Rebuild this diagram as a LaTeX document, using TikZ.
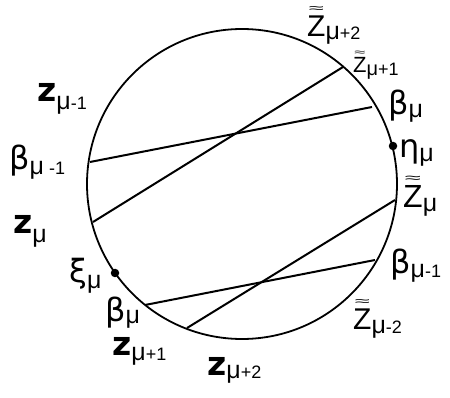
\documentclass[tikz,border=0pt]{standalone}
\usepackage{fontspec}
\usepackage{graphicx}
\setmainfont{Liberation Sans}
\newfontfamily\gk{DejaVu Sans}
\newcommand{\zb}{{\gk\bfseries\fontsize{33}{33}\selectfont z}}
\newcommand{\gl}[1]{{\gk\fontsize{32}{32}\selectfont #1}}
\newcommand{\dg}[1]{{\fontsize{18}{18}\selectfont #1}}
\newcommand{\lo}[2][5]{\raisebox{-#1pt}{\fontsize{25}{25}\selectfont #2}}
\newcommand{\tz}{\vbox{\offinterlineskip\halign{\hfil##\hfil\cr\resizebox{0.5em}{0.2em}{≈}\cr\noalign{\kern0.12em}Z\cr}}}
\tikzset{
  lab/.style={inner sep=0pt, anchor=base west},
  chord/.style={line width=2pt},
  rim/.style={circle, draw, line width=1.8pt, minimum size=310pt, inner sep=0pt},
  pt/.style={circle, fill, inner sep=0pt, minimum size=8.5pt},
}
\begin{document}
\begin{tikzpicture}[x=1pt,y=-1pt]
\useasboundingbox (0,0) rectangle (450,398);
\node[rim] (C) at (242,184) {};
% chord ends
\coordinate (a1) at (93,222);
\coordinate (a2) at (343,67);
\coordinate (b1) at (90,162);
\coordinate (b2) at (372,107);
\coordinate (c1) at (187,328);
\coordinate (c2) at (395,200);
\coordinate (d1) at (145,305);
\coordinate (d2) at (375,260);
\draw[chord] (a1) -- (a2);
\draw[chord] (b1) -- (b2);
\draw[chord] (c1) -- (c2);
\draw[chord] (d1) -- (d2);
\node[pt] (xi) at (115,273) {};
\node[pt] (eta) at (393,146) {};
% labels
\node[lab] (l1) at (37,102) {\zb\lo[8]{μ\dg{-1}}};
\node[lab] (l2) at (9,170) {\gl{β}\lo{μ\dg{ -1}}};
\node[lab] (l3) at (13,234) {\zb\lo[9]{μ}};
\node[lab] (l4) at (69,283) {\gl{ξ}\lo[6]{μ}};
\node[lab] (l5) at (105,321) {\gl{β}\lo[2]{μ}};
\node[lab] (l6) at (112,355) {\zb\lo[5]{μ\dg{+1}}};
\node[lab] (l7) at (207,375) {\zb\lo[3]{μ\dg{+2}}};
\node[lab, font=\fontsize{30}{30}\selectfont] (l8) at (353,330) {\tz\lo[3]{μ\dg{-2}}};
\node[lab] (l9) at (390,273) {\gl{β}\lo[4]{μ\dg{-1}}};
\node[lab, font=\fontsize{32}{32}\selectfont] (l10) at (403,208) {\tz\lo[4]{μ}};
\node[lab] (l11) at (399,158) {\gl{η}\lo[4]{μ}};
\node[lab] (l12) at (388,115) {\gl{β}\lo[3]{μ}};
\node[lab, font=\fontsize{22}{22}\selectfont] (l13) at (353,73) {\tz\lo[3]{\fontsize{20}{20}\selectfont μ\dg{+1}}};
\node[lab, font=\fontsize{30}{30}\selectfont] (l14) at (307,37) {\tz\lo[3]{μ\dg{+2}}};
\end{tikzpicture}
\end{document}
